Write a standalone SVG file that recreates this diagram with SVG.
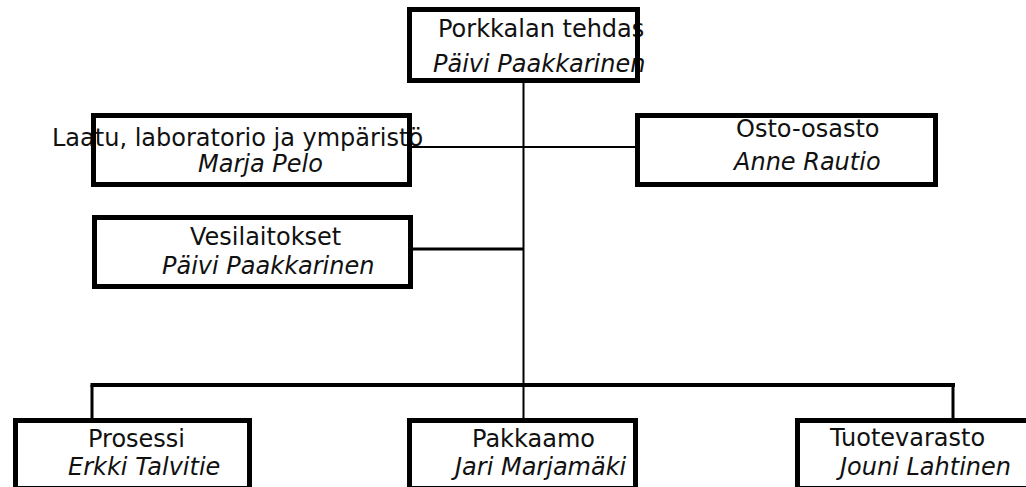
<svg xmlns="http://www.w3.org/2000/svg" width="1026" height="487" viewBox="0 0 1026 487">
  <style>
    .box { fill: none; stroke: #000; stroke-width: 5; }
    .bg { fill: #fff; }
    .t { font-family: "DejaVu Sans", Verdana, sans-serif; font-size: 24px; fill: #111; }
    .n { font-style: italic; }
    .ln { stroke: #000; fill: none; }
  </style>
  <rect width="1026" height="487" fill="#fff"/>

  <!-- connectors -->
  <g id="connectors">
    <line class="ln" x1="523.5" y1="83" x2="523.5" y2="418" stroke-width="2"/>
    <line class="ln" x1="412" y1="147" x2="636" y2="147" stroke-width="2"/>
    <line class="ln" x1="413" y1="249" x2="523" y2="249" stroke-width="3"/>
    <line class="ln" x1="90.5" y1="385" x2="955" y2="385" stroke-width="4"/>
    <line class="ln" x1="92" y1="385" x2="92" y2="418" stroke-width="3"/>
    <line class="ln" x1="953" y1="385" x2="953" y2="418" stroke-width="3"/>
  </g>

  <!-- top: factory -->
  <g id="node-tehdas">
    <rect class="bg" x="409.5" y="9.5" width="228" height="71"/>
    <text class="t" x="438" y="37">Porkkalan tehdas</text>
    <text class="t n" x="433" y="72">Päivi Paakkarinen</text>
    <rect class="box" x="409.5" y="9.5" width="228" height="71"/>
  </g>

  <g id="node-laatu">
    <rect class="bg" x="93.5" y="115.5" width="316" height="69"/>
    <text class="t" x="52" y="146">Laatu, laboratorio ja ympäristö</text>
    <text class="t n" x="198" y="172">Marja Pelo</text>
    <rect class="box" x="93.5" y="115.5" width="316" height="69"/>
  </g>

  <g id="node-osto">
    <rect class="bg" x="637.5" y="115.5" width="298" height="69"/>
    <text class="t" x="736" y="137">Osto-osasto</text>
    <text class="t n" x="734" y="170">Anne Rautio</text>
    <rect class="box" x="637.5" y="115.5" width="298" height="69"/>
  </g>

  <g id="node-vesi">
    <rect class="bg" x="94.5" y="217.5" width="316" height="69"/>
    <text class="t" x="190" y="245">Vesilaitokset</text>
    <text class="t n" x="162" y="274">Päivi Paakkarinen</text>
    <rect class="box" x="94.5" y="217.5" width="316" height="69"/>
  </g>

  <g id="node-prosessi">
    <rect class="bg" x="15.5" y="420.5" width="234" height="68"/>
    <text class="t" x="88" y="447">Prosessi</text>
    <text class="t n" x="68" y="475">Erkki Talvitie</text>
    <rect class="box" x="15.5" y="420.5" width="234" height="68"/>
  </g>

  <g id="node-pakkaamo">
    <rect class="bg" x="409.5" y="420.5" width="226" height="68"/>
    <text class="t" x="472" y="447">Pakkaamo</text>
    <text class="t n" x="455" y="475">Jari Marjamäki</text>
    <rect class="box" x="409.5" y="420.5" width="226" height="68"/>
  </g>

  <g id="node-tuotevarasto">
    <rect class="bg" x="797.5" y="420.5" width="240" height="68"/>
    <text class="t" x="830" y="446">Tuotevarasto</text>
    <text class="t n" x="840" y="475">Jouni Lahtinen</text>
    <rect class="box" x="797.5" y="420.5" width="240" height="68"/>
  </g>
</svg>
